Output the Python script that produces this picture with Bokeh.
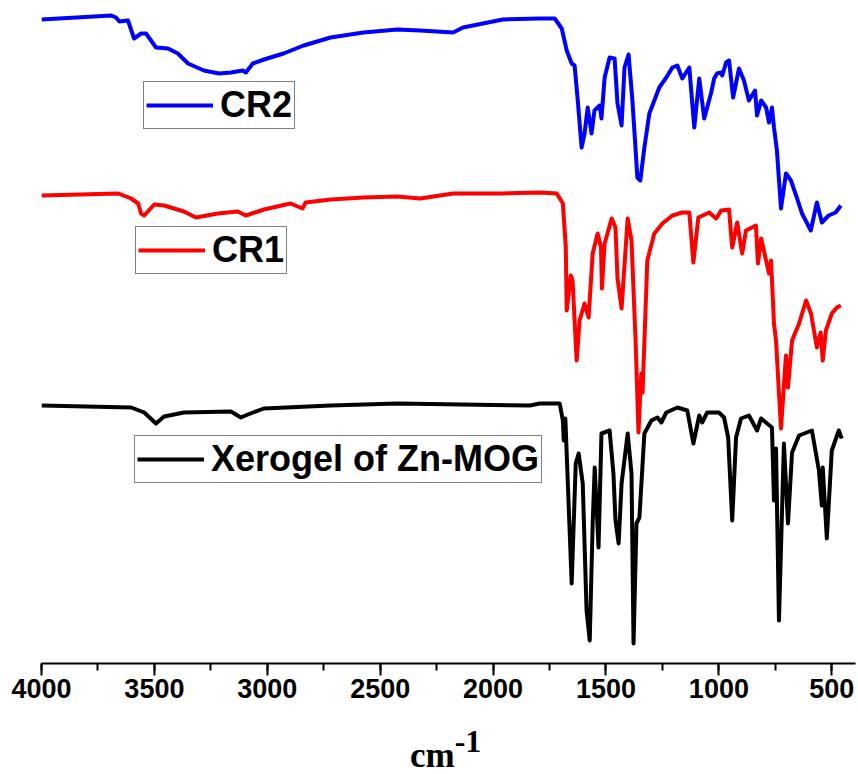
from bokeh.plotting import figure
from bokeh.models import Range1d, SingleIntervalTicker, Legend, LegendItem, Div
from bokeh.layouts import column
from bokeh.embed import file_html
from bokeh.resources import INLINE

# Wavenumbers (cm-1) and offset transmittance (a.u.)
cr2_wn = [4000, 3691, 3670, 3655, 3617, 3590, 3559, 3537, 3493, 3440, 3396, 3351, 3281, 3214,
          3161, 3109, 3095, 3064, 3015, 2928, 2839, 2720, 2574, 2424, 2323, 2177, 2133, 1957,
          1793, 1727, 1696, 1674, 1652, 1639, 1625, 1608, 1595, 1581, 1564, 1551, 1528, 1520,
          1506, 1484, 1462, 1449, 1431, 1418, 1400, 1383, 1361, 1348, 1330, 1308, 1286, 1264,
          1233, 1206, 1184, 1162, 1131, 1109, 1087, 1065, 1034, 1021, 1008, 990, 985, 968, 955,
          937, 911, 889, 867, 840, 831, 813, 791, 778, 765, 756, 743, 725, 703, 681, 655, 632,
          593, 566, 544, 514, 483, 460]
cr2_t = [644, 648, 646, 642, 643, 625, 630, 630, 616, 615, 610, 600, 593, 590,
         591, 593, 591, 600, 604, 610, 618, 626, 631, 634, 633, 631, 636, 644,
         645, 645, 635, 613, 600, 598, 563, 516, 530, 556, 530, 553, 558, 545,
         586, 606, 605, 560, 538, 596, 609, 563, 486, 483, 516, 550, 563, 576,
         586, 596, 598, 585, 596, 536, 585, 545, 571, 585, 590, 591, 588, 601, 603,
         566, 595, 583, 563, 573, 548, 563, 556, 541, 556, 536, 513, 455, 490, 483, 466, 450,
         433, 461, 441, 448, 451, 458]

cr1_wn = [4000, 3660, 3603, 3572, 3559, 3545, 3501, 3457, 3369, 3316, 3219, 3131, 3095, 3015,
          2897, 2844, 2830, 2720, 2574, 2424, 2323, 2177, 2133, 1957, 1793, 1718, 1691, 1678,
          1674, 1656, 1648, 1630, 1617, 1595, 1577, 1559, 1537, 1522, 1518, 1506, 1475, 1458,
          1449, 1431, 1404, 1387, 1369, 1356, 1344, 1338, 1317, 1286, 1250, 1206, 1162, 1131,
          1113, 1091, 1043, 1012, 990, 955, 941, 919, 897, 880, 836, 827, 813, 778, 769, 756,
          747, 725, 703, 694, 676, 645, 614, 592, 566, 549, 540, 526, 500, 478, 460]
cr1_t = [468, 470, 465, 460, 450, 448, 459, 458, 452, 446, 450, 452, 448, 454,
         460, 455, 461, 464, 466, 467, 465, 470, 470, 470, 471, 470, 460, 416,
         353, 388, 383, 303, 343, 360, 346, 410, 430, 416, 375, 420, 445, 436,
         385, 355, 445, 423, 323, 231, 290, 271, 403, 430, 440, 448, 451, 451,
         401, 446, 451, 445, 453, 454, 416, 441, 410, 433, 438, 400, 425, 390, 403, 340,
         323, 235, 308, 276, 323, 340, 363, 350, 316, 331, 303, 333, 350, 356, 358]

mog_wn = [4000, 3603, 3545, 3493, 3457, 3369, 3161, 3117, 3086, 3015, 2720, 2424, 1837, 1793,
          1705, 1691, 1687, 1680, 1652, 1634, 1621, 1603, 1586, 1572, 1559, 1550, 1533, 1520,
          1484, 1467, 1458, 1444, 1431, 1404, 1387, 1378, 1365, 1352, 1330, 1299, 1272, 1255,
          1233, 1184, 1140, 1113, 1087, 1074, 1052, 1000, 977, 959, 941, 924, 902, 867, 831,
          813, 765, 756, 747, 734, 712, 694, 676, 645, 588, 557, 544, 540, 522, 500, 469, 456]
mog_t = [258, 256, 251, 240, 247, 251, 252, 246, 249, 255, 258, 260, 258, 260,
         260, 243, 223, 245, 80, 200, 210, 180, 53, 23, 140, 196, 116, 230,
         233, 190, 143, 120, 180, 230, 190, 20, 140, 146, 230, 243, 246, 241,
         251, 256, 253, 220, 248, 241, 251, 251, 246, 226, 143, 226, 245, 248, 233,
         245, 236, 163, 215, 43, 220, 140, 211, 228, 233, 193, 158, 196, 125, 213, 233, 225]

labels = ["CR2", "CR1", "Xerogel of Zn-MOG"]
colors = ["#0000ff", "#ff0000", "#000000"]
unit_base = "cm"
unit_sup = "-1"

p = figure(width=858, height=736, output_backend="svg", toolbar_location=None,
           x_range=Range1d(4000, 395), y_range=Range1d(0, 655),
           min_border_left=41, min_border_right=3, min_border_top=8, min_border_bottom=73,
           y_axis_location=None)
p.outline_line_color = None
p.xgrid.visible = False
p.ygrid.visible = False
p.background_fill_color = "white"
p.border_fill_color = "white"

renderers = []
for wn, t, c in zip([cr2_wn, cr1_wn, mog_wn], [cr2_t, cr1_t, mog_t], colors):
    r = p.line(wn, t, line_color=c, line_width=4, line_join="round")
    renderers.append(r)

ax = p.xaxis[0]
ax.ticker = SingleIntervalTicker(interval=500, num_minor_ticks=2)
ax.axis_line_width = 2
ax.major_tick_line_width = 2
ax.minor_tick_line_width = 2
ax.major_tick_in = 0
ax.major_tick_out = 12
ax.minor_tick_in = 0
ax.minor_tick_out = 7
ax.major_label_standoff = 3
ax.major_label_text_font = "Liberation Sans"
ax.major_label_text_font_style = "bold"
ax.major_label_text_font_size = "27px"
ax.major_label_text_color = "black"

legend_locs = [(102, 534), (94, 389), (93, 180)]
for lab, r, loc in zip(labels, renderers, legend_locs):
    lg = Legend(items=[LegendItem(label=lab, renderers=[r])], location=loc,
                label_text_font="Liberation Sans", label_text_font_style="bold",
                label_text_font_size="36px", label_text_color="black",
                glyph_width=67, glyph_height=30, label_standoff=7,
                padding=2, spacing=0, margin=0,
                border_line_color="black", border_line_width=1,
                background_fill_color="white", background_fill_alpha=1.0)
    p.add_layout(lg, "center")

unit_div = Div(
    text=f'{unit_base}<sup style="font-size:32px; vertical-align:15px; line-height:0">{unit_sup}</sup>',
    width=200, height=38, margin=(0, 0, 0, 410),
    styles={"font-family": "'Liberation Serif', serif", "font-weight": "bold",
            "font-size": "35px", "line-height": "40px", "color": "black",
            "white-space": "nowrap", "overflow": "visible"})

layout = column(p, unit_div, spacing=0)
open("out.html", "w").write(file_html(layout, INLINE))
